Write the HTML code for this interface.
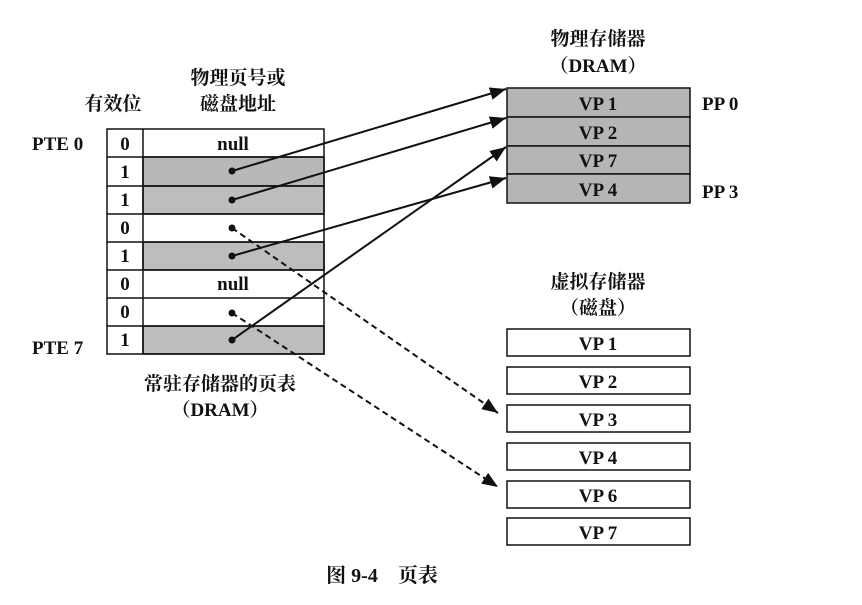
<!DOCTYPE html>
<html><head><meta charset="utf-8"><style>
body{margin:0;background:#fff;width:862px;height:600px;overflow:hidden}
svg text{font-family:"Liberation Serif","Noto Serif CJK SC",serif;fill:#111}
</style></head><body>
<svg width="862" height="600" viewBox="0 0 862 600">
<defs>
<marker id="a" viewBox="0 0 10 10" refX="10" refY="5" markerWidth="8" markerHeight="8" orient="auto"><path d="M0,1 L10,5 L0,9 z" fill="#111"/></marker>
</defs>
<g font-size="19" font-weight="bold">
<text x="238" y="84" text-anchor="middle">物理页号或</text>
<text x="238" y="110" text-anchor="middle">磁盘地址</text>
<text x="113" y="110" text-anchor="middle">有效位</text>
<text x="598" y="45" text-anchor="middle">物理存储器</text>
<text x="598" y="72" text-anchor="middle">（DRAM）</text>
<text x="598" y="288" text-anchor="middle">虚拟存储器</text>
<text x="598" y="314" text-anchor="middle">（磁盘）</text>
<text x="220" y="390" text-anchor="middle">常驻存储器的页表</text>
<text x="220" y="416" text-anchor="middle">（DRAM）</text>
</g>
<text x="32" y="150" font-size="19" font-weight="bold">PTE 0</text>
<text x="32" y="354" font-size="19" font-weight="bold">PTE 7</text>
<!-- table -->
<g stroke="#111" stroke-width="1.5">
<rect x="143" y="157" width="181" height="29" fill="#b8b8b8"/>
<rect x="143" y="186" width="181" height="28" fill="#bdbdbd"/>
<rect x="143" y="242" width="181" height="28" fill="#bdbdbd"/>
<rect x="143" y="326" width="181" height="28" fill="#bdbdbd"/>
<rect x="107" y="129" width="217" height="225" fill="none"/>
<line x1="143" y1="129" x2="143" y2="354"/>
<line x1="107" y1="157" x2="324" y2="157"/><line x1="107" y1="186" x2="324" y2="186"/>
<line x1="107" y1="214" x2="324" y2="214"/><line x1="107" y1="242" x2="324" y2="242"/>
<line x1="107" y1="270" x2="324" y2="270"/><line x1="107" y1="298" x2="324" y2="298"/>
<line x1="107" y1="326" x2="324" y2="326"/>
</g>
<g font-size="19" font-weight="bold" text-anchor="middle">
<text x="125" y="150">0</text><text x="125" y="178">1</text><text x="125" y="206">1</text><text x="125" y="234">0</text>
<text x="125" y="262">1</text><text x="125" y="290">0</text><text x="125" y="318">0</text><text x="125" y="346">1</text>
<text x="233" y="150">null</text><text x="233" y="290">null</text>
</g>
<!-- physical -->
<g stroke="#111" stroke-width="1.5" fill="#b5b5b5">
<rect x="507" y="88" width="183" height="29"/><rect x="507" y="117" width="183" height="29"/>
<rect x="507" y="146" width="183" height="28"/><rect x="507" y="174" width="183" height="29"/>
</g>
<g font-size="19" font-weight="bold" text-anchor="middle">
<text x="598" y="110">VP 1</text><text x="598" y="139">VP 2</text><text x="598" y="167">VP 7</text><text x="598" y="196">VP 4</text>
</g>
<text x="702" y="110" font-size="19" font-weight="bold">PP 0</text>
<text x="702" y="198" font-size="19" font-weight="bold">PP 3</text>
<!-- disk -->
<g stroke="#111" stroke-width="1.5" fill="#fff">
<rect x="507" y="329" width="183" height="27"/><rect x="507" y="367" width="183" height="27"/>
<rect x="507" y="405" width="183" height="27"/><rect x="507" y="443" width="183" height="27"/>
<rect x="507" y="481" width="183" height="27"/><rect x="507" y="518" width="183" height="27"/>
</g>
<g font-size="19" font-weight="bold" text-anchor="middle">
<text x="598" y="350">VP 1</text><text x="598" y="388">VP 2</text><text x="598" y="426">VP 3</text>
<text x="598" y="464">VP 4</text><text x="598" y="502">VP 6</text><text x="598" y="539">VP 7</text>
</g>
<!-- arrows -->
<g stroke="#111" stroke-width="2" fill="none" marker-end="url(#a)">
<line x1="232" y1="171" x2="506" y2="89"/>
<line x1="232" y1="200" x2="506" y2="118"/>
<line x1="232" y1="256" x2="506" y2="178"/>
<line x1="232" y1="340" x2="506" y2="147"/>
<line x1="232" y1="228" x2="498" y2="413" stroke-dasharray="6,4"/>
<line x1="232" y1="313" x2="498" y2="487" stroke-dasharray="6,4"/>
</g>
<g fill="#111">
<circle cx="232" cy="171" r="3.5"/><circle cx="232" cy="200" r="3.5"/><circle cx="232" cy="228" r="3.5"/>
<circle cx="232" cy="256" r="3.5"/><circle cx="232" cy="313" r="3.5"/><circle cx="232" cy="340" r="3.5"/>
</g>
<text x="382" y="582" font-size="20" font-weight="bold" text-anchor="middle">图 9-4　页表</text>
</svg>
</body></html>
